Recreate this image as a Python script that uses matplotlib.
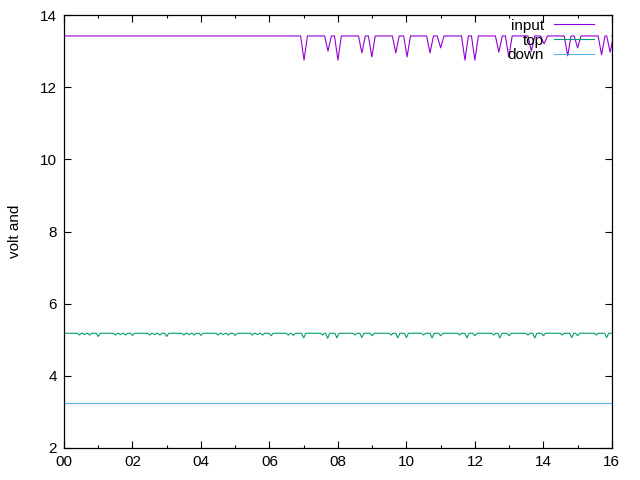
import matplotlib
matplotlib.use('Agg')
import matplotlib.pyplot as plt
import numpy as np

plt.rcParams['font.family'] = ['Liberation Sans', 'DejaVu Sans']

# hours 00..16
x_ticks = [0, 2, 4, 6, 8, 10, 12, 14, 16]
x_labels = ['00', '02', '04', '06', '08', '10', '12', '14', '16']
y_ticks = [2, 4, 6, 8, 10, 12, 14]

# input: flat with dips from ~07h on
input_base = 13.42
input_dip_t = [7.01, 7.71, 8.0, 8.70, 8.99, 9.69, 10.02, 10.69, 11.0, 11.71,
               12.0, 12.70, 12.99, 13.65, 14.02, 14.71, 15.0, 15.70, 15.95]
input_dip_v = [12.75, 13.0, 12.75, 12.95, 12.84, 12.95, 12.84, 12.95, 13.09, 12.75,
               12.75, 12.97, 12.84, 13.0, 13.2, 12.87, 13.09, 12.9, 12.97]

# top: ~5.17 with small wiggles, deeper dips after 07h
top_base = 5.18
top_dip_t = [0.45, 0.6, 0.75, 1.0, 1.5, 1.65, 1.8, 2.0, 2.5, 2.65, 2.8, 3.0,
             3.5, 3.65, 3.8, 4.0, 4.5, 4.65, 4.8, 5.0, 5.5, 5.65, 5.8, 6.05,
             6.55, 6.7, 7.0, 7.55, 7.7, 7.97, 8.5, 8.7, 9.0, 9.55, 9.75, 10.0,
             10.5, 10.75, 11.0, 11.55, 11.77, 12.0, 12.55, 12.73, 13.0, 13.55,
             13.75, 14.0, 14.55, 14.83, 15.0, 15.55, 15.85]
top_dip_v = [5.13, 5.14, 5.13, 5.09, 5.13, 5.14, 5.13, 5.12, 5.13, 5.14, 5.13, 5.09,
             5.13, 5.14, 5.13, 5.12, 5.13, 5.14, 5.13, 5.12, 5.13, 5.14, 5.13, 5.11,
             5.13, 5.12, 5.05, 5.13, 5.04, 5.05, 5.13, 5.06, 5.11, 5.13, 5.05, 5.06,
             5.13, 5.05, 5.11, 5.13, 5.05, 5.11, 5.13, 5.05, 5.11, 5.13,
             5.05, 5.11, 5.13, 5.06, 5.11, 5.13, 5.06]

down_t = [0, 16]
down_v = [3.26, 3.26]


def with_dips(base, dip_t, dip_v, w):
    t = [0.0]
    v = [base]
    for d, val in zip(dip_t, dip_v):
        t += [d - w, d, d + w]
        v += [base, val, base]
    t.append(16.0)
    v.append(base)
    return np.array(t), np.array(v)


in_t, in_v = with_dips(input_base, input_dip_t, input_dip_v, 0.1)
top_t, top_v = with_dips(top_base, top_dip_t, top_dip_v, 0.06)

fig = plt.figure(figsize=(6.4, 4.8), dpi=100)
ax = fig.add_axes([0.1, 0.0667, 0.856, 0.902])

ax.plot(in_t, in_v, color='#9400d3', lw=0.8, label='input')
ax.plot(top_t, top_v, color='#009e73', lw=0.8, label='top')
ax.plot(down_t, down_v, color='#56b4e9', lw=0.8, label='down')

ax.set_xlim(0, 16)
ax.set_ylim(2, 14)
ax.set_xticks(x_ticks)
ax.set_xticklabels(x_labels)
ax.set_xticks(range(1, 16, 2), minor=True)
ax.set_yticks(y_ticks)
ax.tick_params(direction='in', top=True, right=True, length=5, width=0.8,
               labelsize=11, pad=5)
ax.tick_params(which='minor', direction='in', top=True, length=2.5, width=0.8)
for s in ax.spines.values():
    s.set_linewidth(0.9)

ax.set_ylabel('volt and', fontsize=11, labelpad=13)

ax.legend(loc='upper right', bbox_to_anchor=(0.99, 1.02), frameon=False,
          markerfirst=False, fontsize=11, labelspacing=0.06, handlelength=2.6,
          handletextpad=0.7, borderpad=0.3)

fig.savefig('out.png', dpi=100)
